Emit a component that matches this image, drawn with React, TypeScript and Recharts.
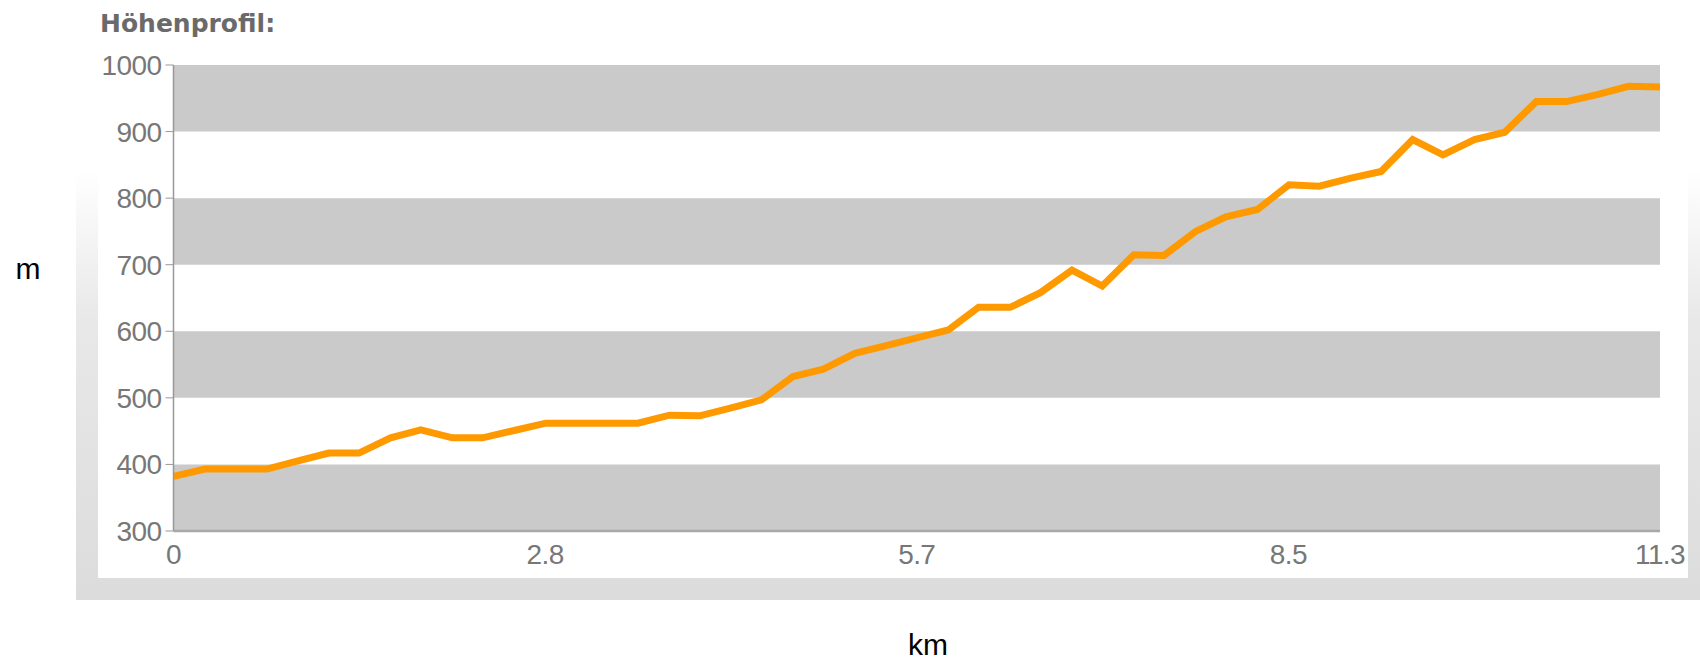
import React from 'react';
import {
    LineChart,
    Line,
    XAxis,
    YAxis,
    ReferenceArea,
} from 'recharts';

// distance along the route (km) for each sample
const kmPoints = [
    0, 0.24, 0.47, 0.71, 0.94, 1.18, 1.41, 1.65, 1.88, 2.12, 2.35, 2.59,
    2.83, 3.06, 3.3, 3.53, 3.77, 4.0, 4.24, 4.47, 4.71, 4.94, 5.18, 5.41,
    5.65, 5.89, 6.12, 6.36, 6.59, 6.83, 7.06, 7.3, 7.53, 7.77, 8.0, 8.24,
    8.48, 8.71, 8.95, 9.18, 9.42, 9.65, 9.89, 10.12, 10.36, 10.59, 10.83, 11.06, 11.3,
];

// elevation (m)
const elevation = [
    382, 393, 393, 393, 405, 417, 417, 440, 452, 440, 440, 451,
    462, 462, 462, 462, 474, 473, 485, 497, 532, 543, 567, 578,
    590, 602, 636, 636, 658, 692, 668, 715, 714, 750, 772, 783,
    820, 818, 830, 840, 888, 865, 888, 899, 945, 945, 956, 968, 967,
];

const xTickValues = [0, 2.825, 5.65, 8.475, 11.3];
const xTickLabels = ['0', '2.8', '5.7', '8.5', '11.3'];
const yTicks = [300, 400, 500, 600, 700, 800, 900, 1000];
const bands = [[300, 400], [500, 600], [700, 800], [900, 1000]];

const data = kmPoints.map((km, i) => ({ km, elev: elevation[i] }));

const tickStyle = {
    fill: '#777',
    fontSize: 28,
    letterSpacing: -0.6,
    fontFamily: '"Liberation Sans", Arial, sans-serif',
};

export default function App() {
    return (
        <div style={{ position: 'absolute', left: 0, top: 0, width: 1700, height: 661, background: '#fff', overflow: 'hidden' }}>
            {/* shadow frame behind the panel */}
            <div
                style={{
                    position: 'absolute', left: 76, top: 170, width: 1624, height: 430,
                    background: 'linear-gradient(to bottom, rgba(232,232,232,0) 0%, #e8e8e8 35%, #dcdcdc 100%)',
                }}
            />
            <div style={{ position: 'absolute', left: 98, top: 0, width: 1590, height: 578, background: '#fff' }} />

            <div style={{ position: 'absolute', left: 0, top: 0 }}>
                <LineChart
                    width={1700}
                    height={661}
                    data={data}
                    margin={{ top: 65, right: 40, left: 93.5, bottom: 100 }}
                >
                    {bands.map(([y1, y2], i) => (
                        <ReferenceArea
                            key={`band-${i}`}
                            y1={y1}
                            y2={y2}
                            fill="#cacaca"
                            fillOpacity={1}
                            stroke="none"
                        />
                    ))}
                    <XAxis
                        dataKey="km"
                        type="number"
                        domain={[0, 11.3]}
                        ticks={xTickValues}
                        tickFormatter={(v: number, i: number) => xTickLabels[i]}
                        height={30}
                        tickSize={0}
                        tickMargin={13}
                        tick={tickStyle}
                        axisLine={{ stroke: '#a8a8a8', strokeWidth: 2.5 }}
                        interval={0}
                    />
                    <YAxis
                        type="number"
                        domain={[300, 1000]}
                        ticks={yTicks}
                        width={80}
                        tickSize={8}
                        tickMargin={4}
                        tick={tickStyle}
                        tickLine={{ stroke: '#999' }}
                        axisLine={{ stroke: '#999', strokeWidth: 1.5 }}
                        interval={0}
                    />
                    <Line
                        type="linear"
                        dataKey="elev"
                        stroke="#ff9900"
                        strokeWidth={7}
                        dot={false}
                        isAnimationActive={false}
                    />
                </LineChart>
            </div>

            <svg
                width={1700}
                height={661}
                style={{ position: 'absolute', left: 0, top: 0, pointerEvents: 'none' }}
            >
                <text
                    x={100}
                    y={32}
                    fontFamily='"DejaVu Sans", Verdana, sans-serif'
                    fontWeight="bold"
                    fontSize={25}
                    fill="#6a6a6a"
                >
                    Höhenprofil:
                </text>
                <text x={28} y={279} textAnchor="middle" fontFamily='"Liberation Sans", Arial, sans-serif' fontSize={30} fill="#000">
                    m
                </text>
                <text x={928} y={655} textAnchor="middle" fontFamily='"Liberation Sans", Arial, sans-serif' fontSize={30} fill="#000">
                    km
                </text>
            </svg>
        </div>
    );
}
